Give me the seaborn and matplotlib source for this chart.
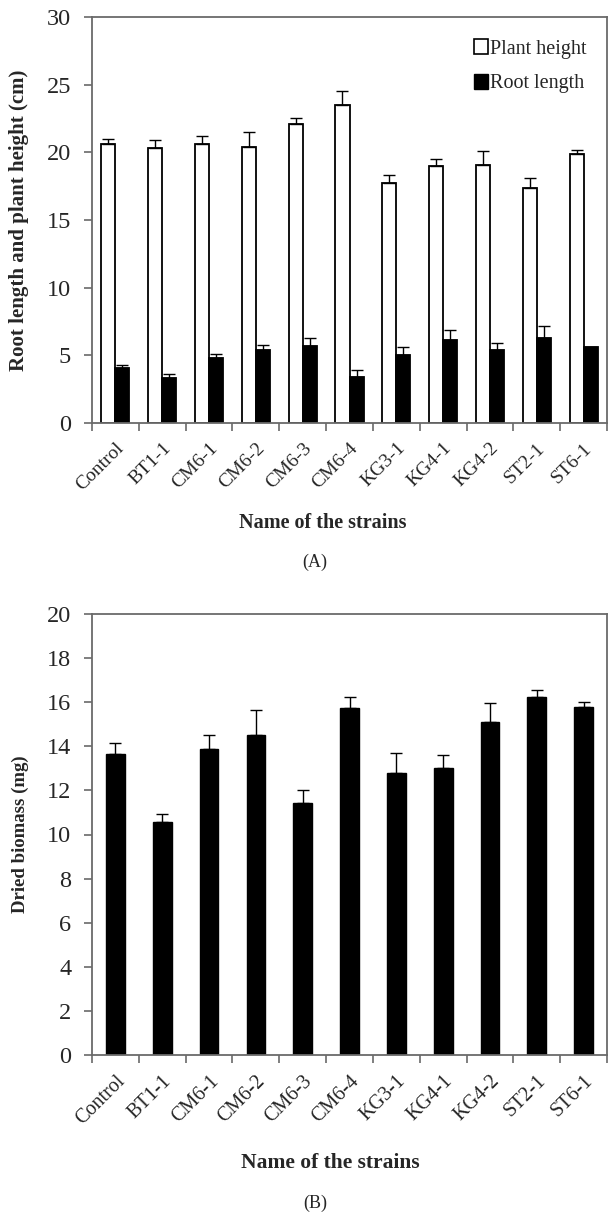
import numpy as np
import pandas as pd
import matplotlib
matplotlib.use("Agg")
import matplotlib.pyplot as plt
import seaborn as sns
from matplotlib.patches import Patch

strains = ["Control", "BT1-1", "CM6-1", "CM6-2", "CM6-3", "CM6-4",
           "KG3-1", "KG4-1", "KG4-2", "ST2-1", "ST6-1"]
plant_height = [20.6, 20.3, 20.6, 20.4, 22.1, 23.5, 17.7, 19.0, 19.1, 17.4, 19.9]
plant_height_err = [0.4, 0.6, 0.6, 1.1, 0.4, 1.0, 0.6, 0.5, 1.0, 0.7, 0.3]
root_length = [4.1, 3.3, 4.8, 5.4, 5.7, 3.4, 5.0, 6.1, 5.4, 6.3, 5.6]
root_length_err = [0.2, 0.3, 0.3, 0.4, 0.6, 0.5, 0.6, 0.8, 0.5, 0.9, 0.0]
biomass = [13.65, 10.55, 13.9, 14.5, 11.45, 15.75, 12.8, 13.0, 15.1, 16.25, 15.8]
biomass_err = [0.5, 0.4, 0.6, 1.15, 0.55, 0.5, 0.9, 0.6, 0.85, 0.3, 0.2]

sns.set_style("white")
plt.rcParams['font.family'] = ['Liberation Serif', 'DejaVu Serif']

W, H = 608, 1215
fig = plt.figure(figsize=(W / 100, H / 100), dpi=100)
axA = fig.add_axes([92 / W, 1 - 423 / H, 515 / W, 406 / H])
axB = fig.add_axes([92 / W, 1 - 1055 / H, 515 / W, 441 / H])

spine_col = "#6a6a6a"

# ---- Panel A ----
dfA = pd.DataFrame({
    "strain": strains * 2,
    "value": plant_height + root_length,
    "series": ["Plant height"] * len(strains) + ["Root length"] * len(strains),
})
sns.barplot(data=dfA, x="strain", y="value", hue="series", ax=axA,
            palette={"Plant height": "white", "Root length": "black"},
            edgecolor="black", linewidth=1.3, width=0.6, errorbar=None,
            saturation=1, legend=False)
for cont, errs, vals in zip(axA.containers, [plant_height_err, root_length_err],
                            [plant_height, root_length]):
    xs = [p.get_x() + p.get_width() / 2 for p in cont.patches]
    axA.errorbar(xs, vals, yerr=[np.zeros(len(errs)), errs], fmt="none",
                 ecolor="black", elinewidth=1.0, capsize=4.5, capthick=1.0)

axA.set_ylim(0, 30)
axA.set_yticks(np.arange(0, 31, 5))
axA.set_ylabel("Root length and plant height (cm)", fontsize=15, fontweight="bold")
axA.yaxis.set_label_coords(-0.122, 0.5)
axA.set_xlabel("Name of the strains", fontsize=14.5, fontweight="bold")
axA.xaxis.set_label_coords(0.449, -0.222)

handles = [Patch(facecolor="white", edgecolor="black", linewidth=1.2, label="Plant height"),
           Patch(facecolor="black", edgecolor="black", label="Root length")]
axA.legend(handles=handles, loc="upper right", frameon=False, fontsize=14.5,
           handlelength=0.65, handleheight=0.75, handletextpad=0.1,
           labelspacing=0.75, bbox_to_anchor=(0.975, 0.965), borderaxespad=0)

# ---- Panel B ----
dfB = pd.DataFrame({"strain": strains, "value": biomass})
sns.barplot(data=dfB, x="strain", y="value", ax=axB, color="black",
            edgecolor="black", width=0.4, errorbar=None, saturation=1)
xsB = [p.get_x() + p.get_width() / 2 for p in axB.containers[0].patches]
axB.errorbar(xsB, biomass, yerr=[np.zeros(len(biomass_err)), biomass_err], fmt="none",
             ecolor="black", elinewidth=1.0, capsize=4.5, capthick=1.0)
axB.set_ylim(0, 20)
axB.set_yticks(np.arange(0, 21, 2))
axB.set_ylabel("Dried biomass (mg)", fontsize=13.5, fontweight="bold")
axB.yaxis.set_label_coords(-0.122, 0.5)
axB.set_xlabel("Name of the strains", fontsize=15.5, fontweight="bold")
axB.xaxis.set_label_coords(0.462, -0.222)

for ax, xfs in ((axA, 14), (axB, 14.5)):
    ax.set_xlim(-0.5, len(strains) - 0.5)
    ax.set_xticks(np.arange(len(strains)))
    ax.set_xticklabels(strains, rotation=45, ha="right", va="top",
                       rotation_mode="anchor", fontsize=xfs)
    ax.set_xticks(np.arange(-0.5, len(strains), 1), minor=True)
    ax.tick_params(axis="x", which="major", length=0, pad=12)
    ax.tick_params(axis="x", which="minor", length=6, width=1.2, color=spine_col,
                   direction="out", bottom=True)
    ax.tick_params(axis="y", which="major", length=6, width=1.2, color=spine_col,
                   direction="out", labelsize=17.5, left=True, pad=9)
    for s in ax.spines.values():
        s.set_visible(True)
        s.set_color(spine_col)
        s.set_linewidth(1.3)

fig.text(315 / W, 1 - 562 / H, "(A)", ha="center", va="center", fontsize=13)
fig.text(315 / W, 1 - 1203 / H, "(B)", ha="center", va="center", fontsize=13)

fig.savefig("out.png", dpi=100, facecolor="white")
